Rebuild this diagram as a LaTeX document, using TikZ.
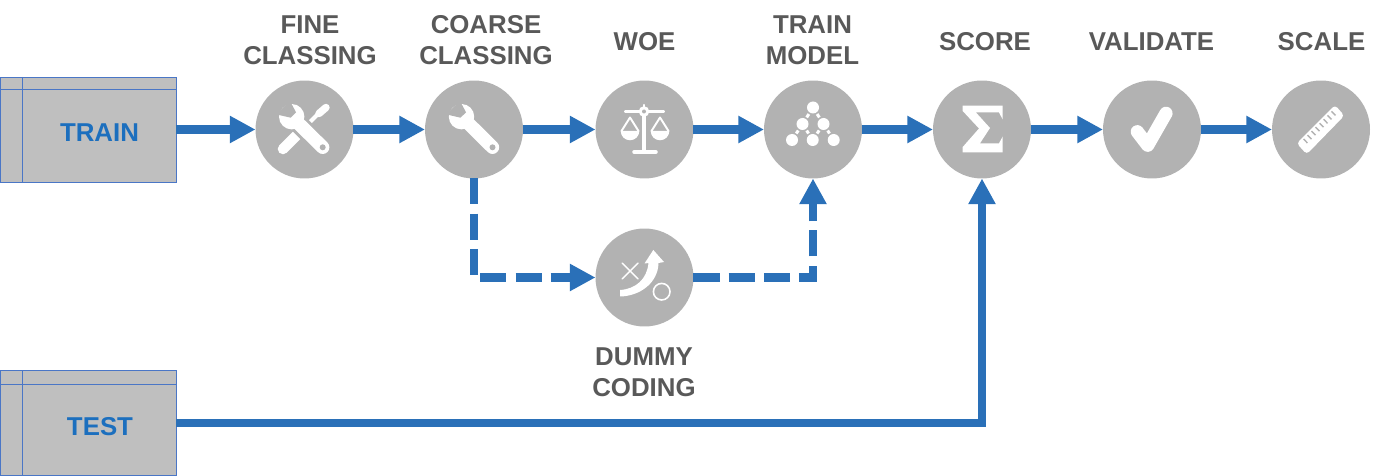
\documentclass[tikz,border=0pt]{standalone}
\usepackage{fontspec}
\setmainfont{Liberation Sans}
\usetikzlibrary{arrows.meta}
\definecolor{flowblue}{HTML}{2A70B8}
\definecolor{textblue}{HTML}{1C6FBE}
\definecolor{stepgrey}{HTML}{B2B2B2}
\definecolor{tablegrey}{HTML}{BFBFBF}
\definecolor{tableline}{HTML}{4A76C6}
\definecolor{labelgrey}{HTML}{595959}
\tikzset{
  stepcircle/.style={circle, fill=stepgrey, minimum size=1.96cm, inner sep=0pt, outer sep=0pt},
  tablebox/.style={rectangle, fill=tablegrey, draw=tableline, line width=0.5pt, minimum width=3.52cm, minimum height=2.1cm, inner sep=0pt, outer sep=0pt},
  tablerule/.style={draw=tableline, line width=0.5pt},
  tablelabel/.style={text=textblue, font=\fontsize{14.7}{17.6}\selectfont\bfseries},
  steplabel/.style={text=labelgrey, align=center, font=\fontsize{14.7}{17.6}\selectfont\bfseries},
  flowline/.style={draw=flowblue, line width=4.7pt, -{Triangle[length=14.6pt,width=14.6pt]}},
  dashline/.style={flowline, dash pattern=on 14.8pt off 5.2pt},
  iconline/.style={draw=white, line cap=round, line join=round},
  iconcut/.style={fill=stepgrey},
  treelink/.style={draw=white, line width=1.7pt, shorten <=4.4pt, shorten >=4.4pt},
}
\begin{document}
\begin{tikzpicture}[x=0.02cm, y=-0.02cm]
  \useasboundingbox (0,0) rectangle (1400,476);

  % data tables
  \node (traintable) at (88,129.5) [tablebox] {};
  \draw[tablerule] (22,77) -- (22,182);
  \draw[tablerule] (0.5,89) -- (176,89);
  \node (traintext) at (99.5,132.5) [tablelabel] {TRAIN};
  \node (testtable) at (88.5,423) [tablebox] {};
  \draw[tablerule] (22,371) -- (22,475);
  \draw[tablerule] (0.5,384) -- (176,384);
  \node (testtext) at (100,426.5) [tablelabel] {TEST};

  % steps
  \node (fine) at (304.5,129.5) [stepcircle] {};
  \node (coarse) at (474,129.5) [stepcircle] {};
  \node (woe) at (644.5,129.5) [stepcircle] {};
  \node (trainmodel) at (813,129.5) [stepcircle] {};
  \node (score) at (982,129.5) [stepcircle] {};
  \node (validate) at (1152,129.5) [stepcircle] {};
  \node (scale) at (1321,129.5) [stepcircle] {};
  \node (dummy) at (644.5,277.5) [stepcircle] {};

  % step labels
  \node (finetext) at (310,40) [steplabel] {FINE\\CLASSING};
  \node (coarsetext) at (486,40) [steplabel] {COARSE\\CLASSING};
  \node (woetext) at (644.5,41.5) [steplabel] {WOE};
  \node (traintextb) at (812.5,40) [steplabel] {TRAIN\\MODEL};
  \node (scoretext) at (985,41.5) [steplabel] {SCORE};
  \node (validatetext) at (1151.5,41.5) [steplabel] {VALIDATE};
  \node (scaletext) at (1321.5,41.5) [steplabel] {SCALE};
  \node (dummytext) at (644,372) [steplabel] {DUMMY\\CODING};

  % connectors
  \draw[flowline] (traintable) -- (fine);
  \draw[flowline] (fine) -- (coarse);
  \draw[flowline] (coarse) -- (woe);
  \draw[flowline] (woe) -- (trainmodel);
  \draw[flowline] (trainmodel) -- (score);
  \draw[flowline] (score) -- (validate);
  \draw[flowline] (validate) -- (scale);
  \draw[dashline] (coarse) |- (dummy);
  \draw[dashline] (dummy) -| (trainmodel);
  \draw[flowline] (testtable) -| (score);

  % fine classing icon
  \draw[iconline, line width=6pt] (283,149) -- (300,132);
  \draw[iconline, line width=2.3pt] (300,132) -- (318,114);
  \draw[iconline, line width=4.2pt] (319,113.5) -- (326,107.5);
  \draw[draw=stepgrey, line width=11pt] (293,118) -- (322,147);
  \fill[white] (291.7,116.7) circle (12.7);
  \draw[iconline, line width=7.6pt] (297,122) -- (322.7,147.3);
  \fill[iconcut] (290,101) -- (296,112.3) -- (290.7,117.7) -- (276,114.3) -- cycle;
  \fill[iconcut] (322.7,147.3) circle (3);

  % coarse classing icon
  \fill[white] (461.5,116.7) circle (12.7);
  \draw[iconline, line width=7.6pt] (467,122) -- (492.5,147.3);
  \fill[iconcut] (460,101) -- (466,112.3) -- (460.5,117.7) -- (446,114.3) -- cycle;
  \fill[iconcut] (492.5,147.3) circle (3);

  % woe icon
  \draw[iconline, line width=2.2pt] (626,111.5) -- (663,111.5);
  \draw[iconline, line width=2.8pt] (644,112) -- (644,151);
  \draw[iconline, line width=2pt] (634,152) -- (656,152);
  \draw[iconline, line width=1.2pt] (644,105) -- (644,110);
  \fill[white] (644,111.5) circle (5.3);
  \fill[iconcut] (644,111.5) circle (2);
  \draw[iconline, line width=1.1pt] (621.5,131) -- (630,117.5) -- (638.5,131);
  \draw[iconline, line width=1.1pt] (651.5,131) -- (660,117.5) -- (668.5,131);
  \fill[white] (620.7,131) arc[start angle=180, end angle=0, radius=9.3] -- cycle;
  \fill[white] (650.7,131) arc[start angle=180, end angle=0, radius=9.3] -- cycle;

  % train model icon
  \coordinate (t1) at (813,107.5);
  \coordinate (t2) at (802.5,124);
  \coordinate (t3) at (823.5,124);
  \coordinate (t4) at (792,140);
  \coordinate (t5) at (812.7,140);
  \coordinate (t6) at (833.7,140);
  \fill[white] (t1) circle (6);
  \fill[white] (t2) circle (6);
  \fill[white] (t3) circle (6);
  \fill[white] (t4) circle (6);
  \fill[white] (t5) circle (6);
  \fill[white] (t6) circle (6);
  \draw[treelink] (t1) -- (t2);
  \draw[treelink] (t1) -- (t3);
  \draw[treelink] (t2) -- (t4);
  \draw[treelink] (t2) -- (t5);
  \draw[treelink] (t3) -- (t5);
  \draw[treelink] (t3) -- (t6);

  % score icon
  \fill[white] (962.7,105.7) -- (1002.7,105.7) -- (1002.7,119.5) -- (999,112.5) -- (976,112.5) -- (990,128)
    -- (980,143.3) -- (999,143.3) -- (1002.7,136.5) -- (1002.7,152.3) -- (962.7,152.3) -- (962.7,147)
    -- (979,128.5) -- (962.7,111) -- cycle;

  % validate icon
  \draw[iconline, line width=7.5pt] (1137.3,131.7) -- (1147.7,145.3) -- (1166,113.3);

  % scale icon
  \fill[white, rounded corners=2pt] (1296.7,143.3) -- (1306.7,154.3) -- (1344.3,115.7) -- (1335,105) -- cycle;
  \draw[draw=stepgrey, line width=3.2pt, dash pattern=on 0.8pt off 2.4pt] (1305,141.5) -- (1337,110);

  % dummy coding icon
  \draw[iconline, line width=0.8pt] (622,263) -- (638,279);
  \draw[iconline, line width=0.8pt] (638,263) -- (622,279);
  \draw[draw=white, line width=0.9pt] (661.7,291.7) circle (8.3);
  \fill[white] (620,290) .. controls (636,289) and (647,279) .. (648.5,263) -- (644.5,263.5) -- (653.3,250)
    -- (664,262) -- (658.5,263) .. controls (658,283) and (640,296) .. (620,296.5) -- cycle;
\end{tikzpicture}
\end{document}
